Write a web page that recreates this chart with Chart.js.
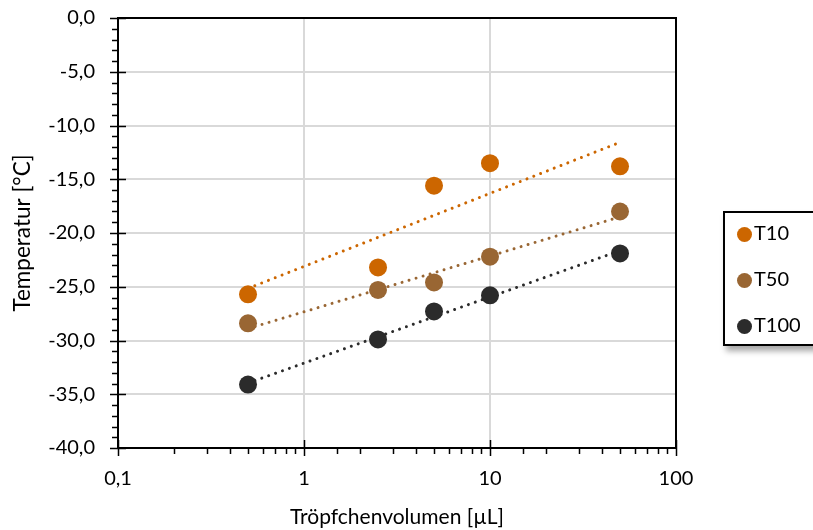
<!DOCTYPE html>
<html lang="de">
<head>
    <meta charset="UTF-8">
    <title>Gefriertemperatur vs. Tröpfchenvolumen</title>
    <script src="https://cdn.jsdelivr.net/npm/chart.js"></script>
    <style>
        html, body {
            margin: 0;
            padding: 0;
            background: #ffffff;
            overflow: hidden;
        }
        .wrap {
            position: relative;
            width: 813px;
            height: 530px;
        }
        .legend {
            position: absolute;
            left: 723px;
            top: 211px;
            width: 120px;
            height: 131px;
            border: 2px solid #000;
            background: #fff;
            box-shadow: 3px 5px 6px rgba(0, 0, 0, 0.35);
            font-family: Lato, sans-serif;
            font-size: 20px;
            color: #000;
        }
        .legend .item {
            position: absolute;
            left: 12px;
            height: 20px;
            line-height: 20px;
        }
        .legend .dot {
            display: inline-block;
            width: 15px;
            height: 15px;
            border-radius: 50%;
            vertical-align: -2px;
            margin-right: 2px;
        }
    </style>
</head>
<body>
<div class="wrap">
    <canvas id="chart" width="813" height="530"></canvas>
    <div class="legend" id="legend"></div>
</div>

<script>
    // droplet volumes in µL
    const volumes = [0.5, 2.5, 5, 10, 50];

    // freezing temperatures in °C
    const t10 = [-25.7, -23.2, -15.6, -13.5, -13.8];
    const t50 = [-28.4, -25.3, -24.6, -22.2, -18.0];
    const t100 = [-34.1, -29.9, -27.3, -25.8, -21.9];

    const seriesNames = ['T10', 'T50', 'T100'];
    const seriesColors = ['#cc6600', '#996633', '#2b2b2b'];
    const seriesData = [t10, t50, t100];

    const xTickLabels = ['0,1', '1', '10', '100'];

    // logarithmic trendline (y = a*ln(x) + b) like in Excel
    function logFit(xs, ys) {
        const lx = xs.map(v => Math.log(v));
        const n = xs.length;
        const mx = lx.reduce((s, v) => s + v, 0) / n;
        const my = ys.reduce((s, v) => s + v, 0) / n;
        let sxy = 0, sxx = 0;
        for (let i = 0; i < n; i++) {
            sxy += (lx[i] - mx) * (ys[i] - my);
            sxx += (lx[i] - mx) * (lx[i] - mx);
        }
        const a = sxy / sxx;
        const b = my - a * mx;
        const x0 = Math.min(...xs), x1 = Math.max(...xs);
        return [{x: x0, y: a * Math.log(x0) + b}, {x: x1, y: a * Math.log(x1) + b}];
    }

    const datasets = [];
    seriesNames.forEach((name, i) => {
        datasets.push({
            label: name,
            data: volumes.map((v, k) => ({x: v, y: seriesData[i][k]})),
            backgroundColor: seriesColors[i],
            borderWidth: 0,
            pointRadius: 9,
            pointHoverRadius: 9,
            showLine: false,
            order: 0
        });
        datasets.push({
            label: name + ' trend',
            data: logFit(volumes, seriesData[i]),
            borderColor: seriesColors[i],
            borderWidth: 3,
            borderDash: [0.01, 7.3],
            borderCapStyle: 'round',
            pointRadius: 0,
            showLine: true,
            order: 1
        });
    });

    // plot frame and Excel-like tick marks
    const frameAndTicks = {
        id: 'frameAndTicks',
        afterDraw(chart) {
            const ctx = chart.ctx;
            const a = chart.chartArea;
            const xs = chart.scales.x, ys = chart.scales.y;
            ctx.save();
            ctx.strokeStyle = '#000';
            ctx.lineWidth = 2;
            ctx.strokeRect(a.left, a.top, a.right - a.left, a.bottom - a.top);

            ctx.lineWidth = 1.5;
            ctx.beginPath();
            ys.ticks.forEach(t => {
                const y = Math.round(ys.getPixelForValue(t.value)) + 0.5;
                const major = t.value % 5 === 0;
                ctx.moveTo(a.left - (major ? 8 : 6), y);
                ctx.lineTo(a.left + (major ? 8 : 0), y);
            });
            xs.ticks.forEach(t => {
                const x = Math.round(xs.getPixelForValue(t.value)) + 0.5;
                const major = xTickLabels.includes(fmtX(t.value));
                ctx.moveTo(x, a.bottom + (major ? 8 : 6));
                ctx.lineTo(x, a.bottom - (major ? 8 : 0));
            });
            ctx.stroke();
            ctx.restore();
        }
    };

    function fmtX(v) {
        return String(Number(v.toPrecision(6))).replace('.', ',');
    }

    new Chart(document.getElementById('chart'), {
        type: 'scatter',
        data: {datasets: datasets},
        options: {
            responsive: false,
            animation: false,
            layout: {padding: {left: 0, right: 137, top: 18, bottom: 0}},
            plugins: {
                legend: {display: false},
                tooltip: {enabled: false}
            },
            scales: {
                x: {
                    type: 'logarithmic',
                    min: 0.1,
                    max: 100,
                    afterFit: scale => { scale.height = 82; },
                    border: {display: false},
                    grid: {
                        drawTicks: true,
                        tickLength: 19,
                        tickColor: 'rgba(0,0,0,0)',
                        lineWidth: 2,
                        color: c => (c.tick && xTickLabels.includes(fmtX(c.tick.value))) ? '#d9d9d9' : 'rgba(0,0,0,0)'
                    },
                    ticks: {
                        autoSkip: false,
                        maxRotation: 0,
                        padding: 0,
                        color: '#000',
                        font: {family: 'Lato', size: 20},
                        callback: v => {
                            const s = fmtX(v);
                            return xTickLabels.includes(s) ? s : '';
                        }
                    },
                    title: {
                        display: true,
                        text: 'Tröpfchenvolumen [µL]',
                        color: '#000',
                        font: {family: 'Lato', size: 21},
                        padding: {top: 0, bottom: 0}
                    }
                },
                y: {
                    type: 'linear',
                    min: -40,
                    max: 0,
                    afterFit: scale => { scale.width = 118; },
                    border: {display: false},
                    grid: {
                        drawTicks: true,
                        tickLength: 23,
                        tickColor: 'rgba(0,0,0,0)',
                        lineWidth: 2,
                        color: c => (c.tick && c.tick.value % 5 === 0) ? '#d9d9d9' : 'rgba(0,0,0,0)'
                    },
                    ticks: {
                        stepSize: 1,
                        autoSkip: false,
                        padding: 0,
                        color: '#000',
                        font: {family: 'Lato', size: 20},
                        callback: v => v % 5 === 0 ? (v === 0 ? 0 : v).toFixed(1).replace('.', ',') : ''
                    },
                    title: {
                        display: true,
                        text: 'Temperatur [°C]',
                        color: '#000',
                        font: {family: 'Lato', size: 22.5},
                        padding: {top: 9, bottom: 0}
                    }
                }
            }
        },
        plugins: [frameAndTicks]
    });

    // legend like the Excel one, cut off at the right edge
    const legend = document.getElementById('legend');
    seriesNames.forEach((name, i) => {
        const item = document.createElement('div');
        item.className = 'item';
        item.style.top = (9 + i * 46) + 'px';
        item.innerHTML = '<span class="dot" style="background:' + seriesColors[i] + '"></span>' + name;
        legend.appendChild(item);
    });
</script>
</body>
</html>
